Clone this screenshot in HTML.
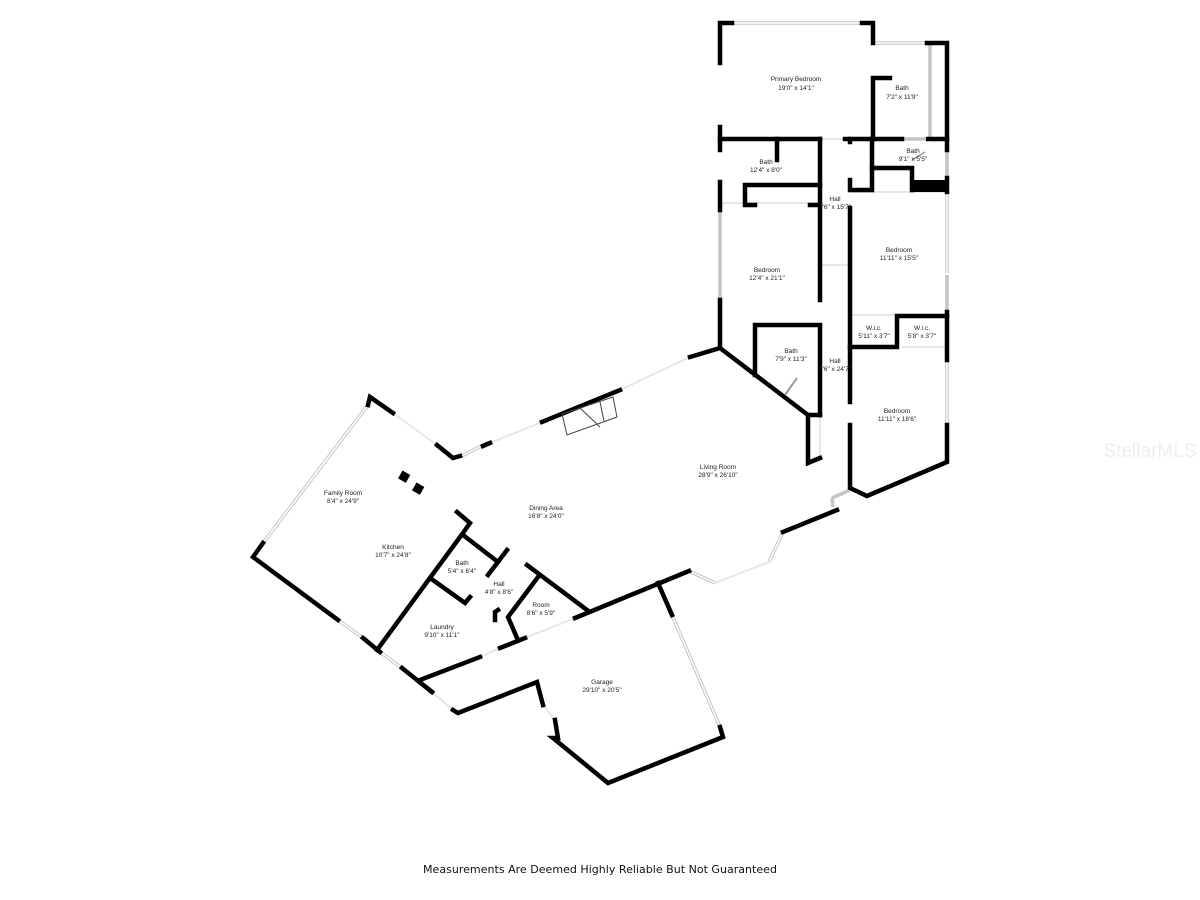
<!DOCTYPE html>
<html><head><meta charset="utf-8"><style>
html,body{margin:0;padding:0;background:#fff;width:1200px;height:900px;overflow:hidden}
svg{display:block}
.w{stroke:#000;stroke-width:4.5;fill:none;stroke-linecap:square;stroke-linejoin:miter}
.win{stroke:#c4c4c4;stroke-width:3.5;fill:none}
.win2{stroke:#fff;stroke-width:1.5;fill:none}
.op{stroke:#e6e6e6;stroke-width:2;fill:none}
text{font-family:"Liberation Sans",sans-serif;font-size:6.5px;fill:#222;text-anchor:middle}
</style></head><body>
<svg width="1200" height="900" viewBox="0 0 1200 900">
<g class="win">
<line x1="732" y1="23" x2="862" y2="23"/><line x1="875" y1="43" x2="925" y2="43"/>
<line x1="930" y1="45" x2="930" y2="139"/><line x1="947" y1="150" x2="947" y2="178"/>
<line x1="947" y1="195" x2="947" y2="273"/><line x1="947" y1="275" x2="947" y2="312"/><line x1="947" y1="362" x2="947" y2="425"/>
<line x1="720" y1="210" x2="720" y2="300"/>
<line x1="368" y1="405" x2="263" y2="543"/><line x1="338" y1="620" x2="363" y2="638"/>
<line x1="380" y1="652" x2="402" y2="668"/><line x1="460" y1="457" x2="487" y2="443"/>
<line x1="689" y1="571" x2="715" y2="583"/><line x1="769" y1="562" x2="783" y2="532"/>
<line x1="833" y1="507" x2="832" y2="498"/><line x1="832" y1="498" x2="850" y2="490"/>
<line x1="672" y1="615" x2="720" y2="727"/><line x1="903" y1="139" x2="925" y2="139"/>
</g>
<g class="win2">
<line x1="732" y1="23" x2="862" y2="23"/><line x1="875" y1="43" x2="925" y2="43"/>
<line x1="368" y1="405" x2="263" y2="543"/><line x1="672" y1="615" x2="720" y2="727"/>
<line x1="947" y1="195" x2="947" y2="273"/><line x1="947" y1="362" x2="947" y2="425"/>
<line x1="338" y1="620" x2="363" y2="638"/><line x1="380" y1="652" x2="402" y2="668"/>
<line x1="689" y1="571" x2="715" y2="583"/><line x1="769" y1="562" x2="783" y2="532"/>
<line x1="460" y1="457" x2="487" y2="443"/>
</g>
<g class="op">
<line x1="393" y1="413" x2="437" y2="445"/><line x1="490" y1="443" x2="542" y2="422"/>
<line x1="620" y1="390" x2="690" y2="357"/><line x1="715" y1="583" x2="769" y2="562"/>
<line x1="525" y1="638" x2="575" y2="618"/><line x1="432" y1="692" x2="453" y2="710"/>
<line x1="543" y1="705" x2="555" y2="720"/><line x1="480" y1="657" x2="500" y2="648"/>
<line x1="820" y1="265" x2="850" y2="265"/><line x1="850" y1="192" x2="947" y2="192"/>
<line x1="850" y1="315" x2="895" y2="315"/><line x1="902" y1="347" x2="947" y2="347"/>
<line x1="820" y1="415" x2="820" y2="455"/><line x1="720" y1="203" x2="820" y2="203"/>
<line x1="820" y1="139" x2="845" y2="139"/>
</g>
<g class="w">
<polyline points="720,63 720,23 732,23"/><polyline points="862,23 873,23 873,43"/>
<polyline points="927,43 947,43 947,150"/><line x1="720" y1="127" x2="720" y2="150"/>
<line x1="720" y1="182" x2="720" y2="210"/><line x1="947" y1="178" x2="947" y2="192"/>
<line x1="947" y1="312" x2="947" y2="360"/>
<polyline points="947,425 947,462 867,496 850,488 850,425"/>
<line x1="850" y1="208" x2="850" y2="402"/>
<line x1="720" y1="139" x2="820" y2="139"/><line x1="845" y1="139" x2="902" y2="139"/><line x1="928" y1="139" x2="947" y2="139"/>
<polyline points="890,78 873,78 873,139"/>
<line x1="777" y1="139" x2="777" y2="160"/>
<line x1="820" y1="139" x2="820" y2="300"/><line x1="820" y1="328" x2="820" y2="415"/>
<polyline points="850,139 850,142"/><polyline points="850,180 850,190 872,190 872,139"/>
<polyline points="872,168 912,168 912,190"/>
<polyline points="755,205 745,205 745,185 820,185"/><line x1="810" y1="205" x2="820" y2="205"/>
<polyline points="820,325 755,325 755,375"/>
<polyline points="720,300 720,348 808,415 820,415"/>
<polyline points="808,415 808,463 820,458"/>
<polyline points="720,348 690,357"/>
<polyline points="850,347 897,347 897,316 947,316"/>
<line x1="542" y1="422" x2="620" y2="390"/>
<polyline points="437,445 453,458 460,456"/><line x1="483" y1="446" x2="490" y2="443"/>
<polyline points="393,413 370,397 368,405"/>
<polyline points="263,543 253,557 338,620"/>
<polyline points="363,638 380,652"/><polyline points="402,668 432,692"/>
<polyline points="453,710 458,713 537,682 543,705"/>
<polyline points="555,720 558,738 553,738 608,783 723,737 720,727"/>
<polyline points="658,583 672,615"/>
<polyline points="575,618 689,571"/><line x1="783" y1="532" x2="837" y2="510"/>
<line x1="420" y1="680" x2="480" y2="657"/><line x1="500" y1="648" x2="525" y2="638"/>
<polyline points="457,512 470,523 463,533 377,650"/>
<polyline points="463,535 498,562"/><polyline points="430,578 465,603 470,597"/>
<line x1="507" y1="550" x2="488" y2="575"/>
<line x1="527" y1="565" x2="587" y2="610"/>
<polyline points="538,577 508,617 517,638"/><polyline points="498,610 495,612 495,620"/>
<line x1="417" y1="680" x2="432" y2="692"/>
</g>
<rect x="912" y="180" width="35" height="12" fill="#000"/>
<rect x="400" y="472" width="9" height="9" fill="#000" transform="rotate(30 404 476)"/>
<rect x="414" y="484" width="9" height="9" fill="#000" transform="rotate(30 418 488)"/>
<polygon points="562,414 613,397 617,417 567,435" fill="none" stroke="#444" stroke-width="1"/>
<line x1="580" y1="408" x2="600" y2="427" stroke="#444" stroke-width="1"/>
<line x1="600" y1="402" x2="604" y2="421" stroke="#444" stroke-width="1"/>
<line x1="785" y1="395" x2="797" y2="378" stroke="#999" stroke-width="2"/>
<line x1="912" y1="160" x2="925" y2="152" stroke="#999" stroke-width="1.5"/>
<text x="796" y="81">Primary Bedroom</text><text x="796" y="90">19'0" x 14'1"</text>
<text x="902" y="90">Bath</text><text x="902" y="99">7'2" x 11'9"</text>
<text x="913" y="153">Bath</text><text x="913" y="161">9'1" x 5'5"</text>
<text x="766" y="164">Bath</text><text x="766" y="172">12'4" x 8'0"</text>
<text x="835" y="201">Hall</text><text x="835" y="209">7'6" x 15'7"</text>
<text x="899" y="252">Bedroom</text><text x="899" y="260">11'11" x 15'5"</text>
<text x="767" y="272">Bedroom</text><text x="767" y="280">12'4" x 21'1"</text>
<text x="874" y="330">W.i.c.</text><text x="874" y="338">5'11" x 3'7"</text>
<text x="922" y="330">W.i.c.</text><text x="922" y="338">5'8" x 3'7"</text>
<text x="791" y="353">Bath</text><text x="791" y="361">7'9" x 11'3"</text>
<text x="835" y="363">Hall</text><text x="835" y="371">7'6" x 24'7"</text>
<text x="897" y="413">Bedroom</text><text x="897" y="421">11'11" x 18'6"</text>
<text x="718" y="469">Living Room</text><text x="718" y="477">28'9" x 26'10"</text>
<text x="343" y="495">Family Room</text><text x="343" y="503">8'4" x 24'9"</text>
<text x="546" y="510">Dining Area</text><text x="546" y="518">16'8" x 24'0"</text>
<text x="393" y="549">Kitchen</text><text x="393" y="557">10'7" x 24'8"</text>
<text x="462" y="565">Bath</text><text x="462" y="573">5'4" x 6'4"</text>
<text x="499" y="586">Hall</text><text x="499" y="594">4'8" x 8'6"</text>
<text x="541" y="607">Room</text><text x="541" y="615">8'6" x 5'9"</text>
<text x="442" y="629">Laundry</text><text x="442" y="637">9'10" x 11'1"</text>
<text x="602" y="684">Garage</text><text x="602" y="692">29'10" x 20'5"</text>
<text x="600" y="873" textLength="354" lengthAdjust="spacingAndGlyphs" style="font-family:'DejaVu Sans',sans-serif;font-size:11px;fill:#111">Measurements Are Deemed Highly Reliable But Not Guaranteed</text>
<text x="1150" y="457" style="font-size:19px;fill:#eeeeee">StellarMLS</text>
</svg>
</body></html>
